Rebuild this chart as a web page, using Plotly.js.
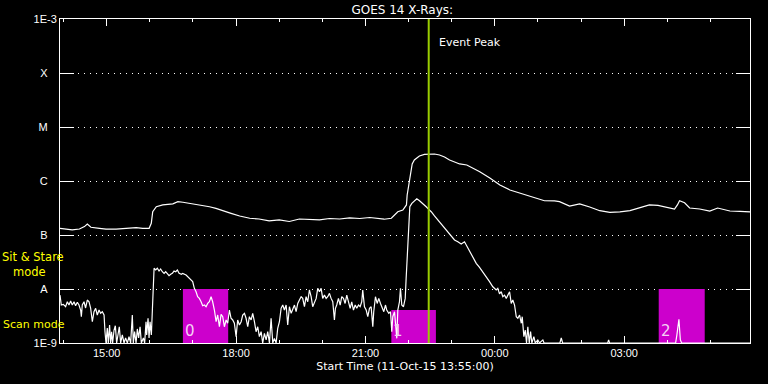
<!DOCTYPE html>
<html>
<head>
<meta charset="utf-8">
<script src="https://cdn.plot.ly/plotly-3.0.1.min.js"></script>
<style>html,body{margin:0;padding:0;background:#000;}#chart{width:768px;height:384px;}</style>
</head>
<body>
<div id="chart"></div>
<script>
// Start time 11-Oct-15 13:55:00 ; all times are minutes after start
const startTime = '2015-10-11 13:55:00';

// GOES 14 long channel (1-8 A)
const upperMin = [0,8,17,27,34,38,43,55,64,78,92,106,115,124,127,129,134,143,157,164,171,185,199,208,217,226,238,250,264,277,291,305,319,333,347,361,375,389,403,417,431,445,451,461,465,470,477,482,483,485,488,490,493,500,507,514,521,528,535,542,549,556,566,573,584,598,612,626,639,653,674,688,695,709,716,723,737,751,765,779,793,806,820,832,841,855,859,862,869,876,890,904,915,932,946,960];
const upperFlux = [1.33e-7,1.28e-7,1.24e-7,1.29e-7,1.43e-7,1.60e-7,1.39e-7,1.33e-7,1.28e-7,1.28e-7,1.33e-7,1.37e-7,1.33e-7,1.33e-7,1.65e-7,2.70e-7,3.34e-7,3.60e-7,3.78e-7,4.14e-7,4.04e-7,3.78e-7,3.44e-7,3.34e-7,3.12e-7,2.82e-7,2.52e-7,2.25e-7,2.04e-7,1.98e-7,1.82e-7,1.90e-7,1.78e-7,1.98e-7,1.94e-7,1.90e-7,2.02e-7,1.98e-7,2.07e-7,2.02e-7,2.11e-7,1.98e-7,1.96e-7,2.04e-7,2.34e-7,2.70e-7,2.90e-7,3.60e-7,5.51e-7,8.43e-7,1.60e-6,2.07e-6,2.45e-6,2.90e-6,3.10e-6,3.16e-6,3.16e-6,3.03e-6,2.78e-6,2.45e-6,2.25e-6,2.07e-6,1.98e-6,1.78e-6,1.49e-6,1.14e-6,8.43e-7,6.81e-7,6.00e-7,5.12e-7,4.31e-7,4.27e-7,4.14e-7,3.44e-7,3.60e-7,3.78e-7,3.30e-7,2.82e-7,2.63e-7,2.67e-7,2.82e-7,3.16e-7,3.60e-7,3.53e-7,3.34e-7,3.03e-7,3.60e-7,4.31e-7,3.96e-7,3.16e-7,3.03e-7,2.78e-7,3.16e-7,2.78e-7,2.74e-7,2.67e-7];

// GOES 14 short channel (0.5-4 A)
const lowerMin = [0,1.8,4.6,7.8,10.2,12.5,14.8,17.1,19.5,21.7,24.1,26.4,28.7,29.7,31,33.4,35.6,38,40.4,42.6,45,47.3,49.6,51.9,54.3,56.5,58.9,61.3,62.6,64,65.8,67.2,69,70.4,71.8,73.2,75.2,77,78.8,80.7,82.5,84.4,86.7,89.1,91.3,93.7,96,98.3,100.6,102,103.8,105.8,107.6,109.4,111.4,113.2,116,117.8,119.7,120.6,122.5,123.9,125.3,127.1,128.5,129.5,130.9,133.1,135.4,137.8,140,142.4,144.8,147,149.4,151.7,154,156.3,158.7,160.9,163.3,165.7,168.9,170.7,175.4,180,184.6,186.9,189.3,191.5,193.9,196.3,198.5,200.9,203.2,205.5,207.8,210.2,212.4,214.8,217.2,219.4,221.8,224.1,226.4,228.7,231.1,233.3,235.7,238,240.3,242.6,245,247.2,249.6,252,254.2,256.6,258.9,261.2,263.5,265.9,268.1,270.5,272.8,275.1,277.4,279.8,282,284.4,286.8,289,291.4,293.7,296,298.3,300.7,302.9,305.3,307.6,309.9,312.2,314.6,316.8,319.2,321.6,323.8,326.2,328.5,330.8,333.1,335.5,337.7,340.1,342.4,344.7,347,349.4,351.6,354,356.4,358.6,361,363.3,365.5,367.9,370.3,372.5,374.9,377.2,379.5,381.8,383.2,385,387.4,389.8,392,394.4,396.7,399,401.3,403.7,405.9,408.3,410.7,412.9,415.3,417.6,419.8,421.2,423.6,426,428.2,430.6,432.9,435.2,436.5,438.9,441.3,443.5,445.9,448.2,450.5,452.8,454.6,457.4,459.8,461.6,463,465.4,466.8,468.6,470,472.3,473.7,475.5,477.9,480.3,481.6,483,484.9,486.7,489.5,493.2,496.4,500.2,504.8,509.5,513.1,516.5,521,525.6,530.4,535,539.6,544.3,548.9,553.5,558.2,562.8,565.2,569.8,574.4,579.1,583.7,588.3,593,597.6,602.2,606.9,609.1,611.5,613.9,616.1,618.5,620.9,623.1,625.5,627.8,630,632.4,634.8,637,639.4,641.8,643.1,645.4,647.3,649.1,650.9,652.9,654.7,656.5,659.3,661.2,664.8,667.2,671.8,673.5,695.5,697.4,699.3,762,763.3,764.6,856.5,858.3,861.1,863.1,865,960];
const lowerFlux = [7.7e-9,5.05e-9,5.2e-9,4.7e-9,5.8e-9,5.05e-9,6.0e-9,5.05e-9,5.8e-9,4.9e-9,5.67e-9,5.05e-9,4.08e-9,3.07e-9,5.05e-9,5.8e-9,4.45e-9,6.25e-9,5.8e-9,4.45e-9,2.48e-9,3.8e-9,4.39e-9,3.3e-9,4.08e-9,3.55e-9,3.8e-9,3.3e-9,1.62e-9,1e-9,1.9e-9,1e-9,2.15e-9,1e-9,1.62e-9,1e-9,1.74e-9,2.09e-9,1e-9,1.62e-9,2.0e-9,1e-9,1.41e-9,1e-9,1.24e-9,1e-9,1.31e-9,1e-9,3.3e-9,1e-9,1.62e-9,1e-9,1.82e-9,1.24e-9,2.0e-9,1e-9,1.24e-9,1e-9,2.48e-9,1.41e-9,2.87e-9,1.24e-9,2.48e-9,1.41e-9,3.8e-9,1.37e-8,2.42e-8,2.25e-8,2.42e-8,2.15e-8,2.35e-8,2.09e-8,1.95e-8,2.09e-8,1.87e-8,1.76e-8,1.87e-8,1.95e-8,2.15e-8,2.09e-8,2.25e-8,1.95e-8,1.87e-8,1.95e-8,1.82e-8,1.58e-8,1.37e-8,1.03e-8,8.9e-9,7.2e-9,6.7e-9,5.8e-9,4.9e-9,5.05e-9,4.7e-9,5.4e-9,5.8e-9,7.2e-9,5.8e-9,4.08e-9,2.48e-9,3.3e-9,2.0e-9,3.4e-9,3.07e-9,2.0e-9,2.67e-9,2.32e-9,4.08e-9,2.87e-9,2.67e-9,2.32e-9,1.31e-9,2.67e-9,2.15e-9,2.48e-9,3.3e-9,3.55e-9,2.87e-9,2.0e-9,3.07e-9,2.67e-9,3.55e-9,2.48e-9,1.62e-9,2.0e-9,1.31e-9,1.62e-9,1e-9,1.51e-9,1.14e-9,1.62e-9,1e-9,2.87e-9,1e-9,1.22e-9,1e-9,1.87e-9,2.48e-9,4.39e-9,5.05e-9,4.08e-9,5.05e-9,2.15e-9,4.7e-9,3.55e-9,4.08e-9,5.05e-9,3.8e-9,5.4e-9,6.25e-9,7.2e-9,6.7e-9,4.7e-9,7.2e-9,5.8e-9,9.6e-9,7.2e-9,4.7e-9,5.8e-9,6.7e-9,1.03e-8,8.9e-9,1.03e-8,6.7e-9,7.7e-9,6.7e-9,7.2e-9,8.3e-9,6.7e-9,5.8e-9,2.67e-9,4.39e-9,5.05e-9,6.7e-9,5.05e-9,7.2e-9,6.7e-9,5.4e-9,7.7e-9,5.8e-9,4.39e-9,5.8e-9,4.08e-9,5.05e-9,4.39e-9,5.05e-9,4.7e-9,5.8e-9,9.6e-9,4.7e-9,4.08e-9,3.07e-9,4.39e-9,4.7e-9,2.0e-9,3.8e-9,7.2e-9,5.4e-9,6.7e-9,5.4e-9,4.39e-9,3.8e-9,5.05e-9,4.08e-9,3.55e-9,3.8e-9,1.62e-9,3.07e-9,3.8e-9,1.87e-9,1.22e-9,4.08e-9,5.8e-9,1.03e-8,5.05e-9,4.7e-9,6.7e-9,1.58e-8,3.97e-8,1.43e-7,3.34e-7,3.86e-7,4.31e-7,4.70e-7,4.31e-7,3.86e-7,3.34e-7,2.99e-7,2.70e-7,2.25e-7,1.90e-7,1.65e-7,1.39e-7,1.15e-7,9.6e-8,8.1e-8,7.5e-8,6.8e-8,7.5e-8,6.5e-8,4.91e-8,3.70e-8,2.99e-8,2.52e-8,2.09e-8,1.69e-8,1.37e-8,1.10e-8,9.6e-9,1.03e-8,8.1e-9,8.9e-9,7.2e-9,7.7e-9,6.7e-9,7.7e-9,8.9e-9,5.4e-9,6.25e-9,5.05e-9,3.07e-9,2.87e-9,3.3e-9,2.32e-9,3.07e-9,1.31e-9,1.74e-9,1e-9,2.0e-9,1e-9,1.62e-9,1e-9,1.31e-9,1e-9,1.14e-9,1e-9,1.14e-9,1e-9,1e-9,1.24e-9,1e-9,1e-9,1.14e-9,1e-9,1e-9,1.41e-9,2.75e-9,1.14e-9,1e-9,1e-9];

// EIS observation windows (scan / sit & stare)
const scanStartMin = [171, 461, 833];
const scanEndMin = [234, 523, 897];
const scanTopFlux = [1e-8, 4.1e-9, 1e-8];
const scanLabels = ['0', '1', '2'];

const peakMin = 513;   // 22:28 event peak
const axisEndMin = 960;

const yTickVals = [1e-9, 1e-8, 1e-7, 1e-6, 1e-5, 1e-4, 1e-3];
const yTickText = ['1E-9', 'A', 'B', 'C', 'M', 'X', '1E-3'];

function t(m) {
  const base = Date.UTC(2015, 9, 11, 13, 55, 0);
  return new Date(base + m * 60000).toISOString().replace('T', ' ').slice(0, 19);
}

const pad = '\u00a0\u00a0\u00a0';
const yText = yTickText.map(s => s.length === 1 ? s + pad : s);

const traces = [];
const floor = yTickVals[0];
scanStartMin.forEach((s, i) => {
  const e = scanEndMin[i];
  traces.push({
    type: 'scatter', mode: 'lines',
    x: [t(s), t(s), t(e), t(e), t(s)],
    y: [floor, scanTopFlux[i], scanTopFlux[i], floor, floor],
    fill: 'toself', fillcolor: '#cc00cc',
    line: {width: 0, color: '#cc00cc'}, hoverinfo: 'skip'
  });
});
traces.push({
  type: 'scatter', mode: 'lines', x: upperMin.map(t), y: upperFlux,
  line: {color: '#ffffff', width: 1.2}
});
traces.push({
  type: 'scatter', mode: 'lines', x: lowerMin.map(t), y: lowerFlux,
  line: {color: '#ffffff', width: 1.2}
});

const annotations = [
  {text: 'Event Peak', x: t(peakMin), xref: 'x', y: 0.927, yref: 'paper', xanchor: 'left', yanchor: 'middle', xshift: 8, showarrow: false, font: {size: 11, color: '#ffffff'}},
  {text: 'Sit &amp; Stare<br>\u00a0\u00a0\u00a0mode', align: 'left', x: -0.086, xref: 'paper', y: 0.241, yref: 'paper', xanchor: 'left', yanchor: 'middle', showarrow: false, borderpad: 0, font: {size: 11.5, color: '#ffff00'}},
  {text: 'Scan mode', x: -0.086, xref: 'paper', y: 0.0586, yref: 'paper', xanchor: 'left', yanchor: 'middle', showarrow: false, font: {size: 11, color: '#ffff00'}}
];
scanStartMin.forEach((s, i) => {
  annotations.push({text: scanLabels[i], x: t(s), xref: 'x', y: 0, yref: 'paper', xanchor: 'left', yanchor: 'bottom', yshift: 1, showarrow: false, font: {size: 15, color: '#f4d0f4'}});
});

const layout = {
  width: 768, height: 384,
  paper_bgcolor: '#000000', plot_bgcolor: '#000000',
  margin: {l: 60, r: 18, t: 19, b: 41, pad: 0},
  showlegend: false,
  font: {family: 'DejaVu Sans, sans-serif', color: '#ffffff', size: 11},
  title: {text: 'GOES 14 X-Rays:', font: {size: 12, color: '#ffffff'}, xref: 'paper', x: 0.496, yref: 'container', y: 0.975, yanchor: 'middle'},
  xaxis: {
    type: 'date', range: [t(0), t(axisEndMin)],
    tickformat: '%H:%M', tick0: '2015-10-11 15:00:00', dtick: 10800000,
    ticks: 'inside', ticklen: 7, tickwidth: 1, tickcolor: '#ffffff',
    minor: {dtick: 3600000, ticks: 'inside', ticklen: 3, tickwidth: 1, tickcolor: '#ffffff', showgrid: false},
    showline: true, linecolor: '#ffffff', linewidth: 1, mirror: 'ticks',
    showgrid: false, zeroline: false,
    tickfont: {family: 'Liberation Sans, sans-serif', size: 11, color: '#ffffff'},
    title: {text: 'Start Time (11-Oct-15 13:55:00)', font: {size: 11, color: '#ffffff'}, standoff: 4}
  },
  yaxis: {
    type: 'log', range: [-9, -3],
    tickmode: 'array', tickvals: yTickVals, ticktext: yText,
    ticks: 'inside', ticklen: 14, tickwidth: 1, tickcolor: '#ffffff',
    showline: true, linecolor: '#ffffff', linewidth: 1, mirror: 'ticks',
    showgrid: true, gridcolor: '#ffffff', gridwidth: 1, griddash: '1px,5px',
    zeroline: false,
    tickfont: {family: 'Liberation Sans, sans-serif', size: 11, color: '#ffffff'}
  },
  shapes: [
    {type: 'line', xref: 'x', yref: 'paper', x0: t(peakMin), x1: t(peakMin), y0: 0, y1: 1, line: {color: '#99cc00', width: 2}}
  ],
  annotations: annotations
};

Plotly.newPlot('chart', traces, layout, {displayModeBar: false, staticPlot: true});
</script>
</body>
</html>
